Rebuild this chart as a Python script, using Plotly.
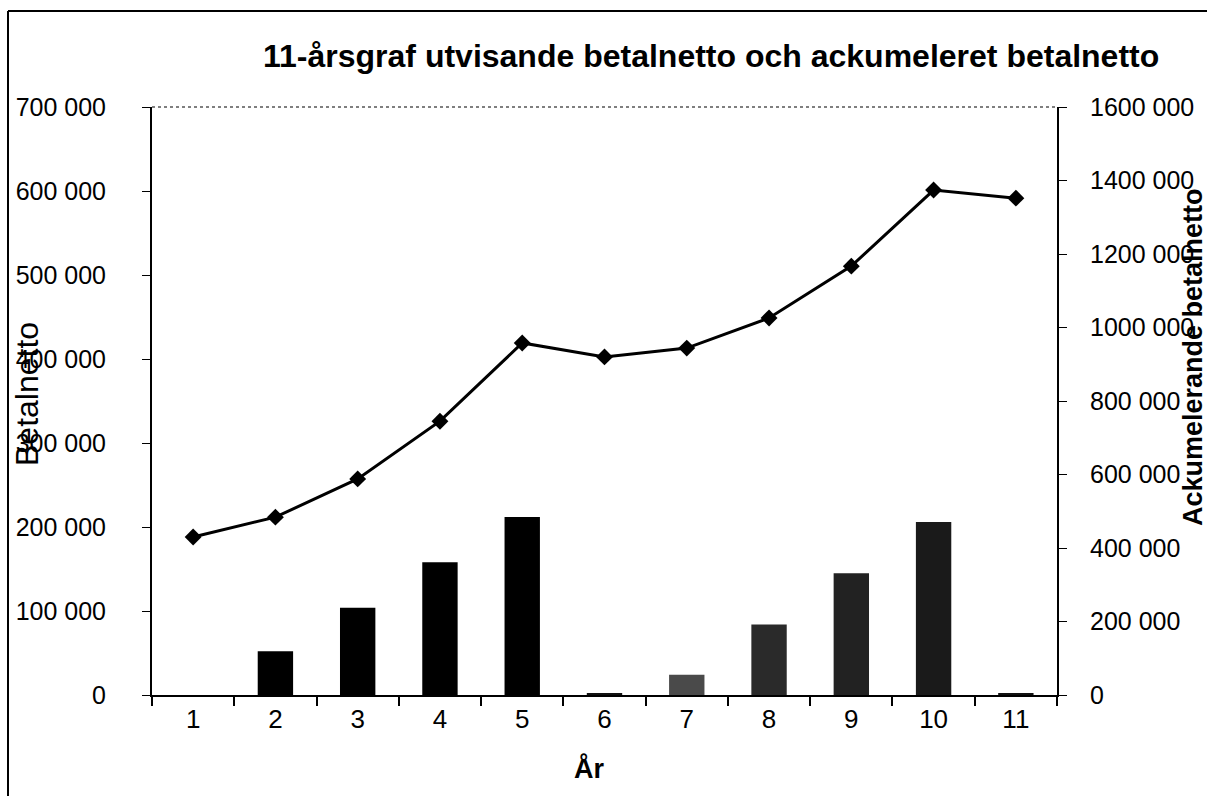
import plotly.graph_objects as go

years = ["1", "2", "3", "4", "5", "6", "7", "8", "9", "10", "11"]
betalnetto = [0, 52000, 104000, 158000, 212000, 2000, 24000, 84000, 145000, 206000, 2000]
ackumulerat = [430000, 484000, 588000, 745000, 958000, 920000, 944000, 1026000, 1167000, 1374000, 1352000]
bar_colors = ["#000000", "#000000", "#000000", "#000000", "#000000", "#111111",
              "#4a4a4a", "#2a2a2a", "#222222", "#1a1a1a", "#111111"]

left_ticks = [0, 100000, 200000, 300000, 400000, 500000, 600000, 700000]
left_text = ["0", "100 000", "200 000", "300 000", "400 000", "500 000", "600 000", "700 000"]
right_ticks = [0, 200000, 400000, 600000, 800000, 1000000, 1200000, 1400000, 1600000]
right_text = ["0", "200 000", "400 000", "600 000", "800 000", "1000 000", "1200 000", "1400 000", "1600 000"]

title = "11-årsgraf utvisande betalnetto och ackumeleret betalnetto"
xtitle = "År"
ytitle_left = "Betalnetto"
ytitle_right = "Ackumelerande betalnetto"

FONT = "Liberation Sans, Arial, sans-serif"
W, H = 1207, 796
L, R, T, B = 152, 150, 107, 101
PW, PH = W - L - R, H - T - B

def px(x):
    return (x - L) / PW

def py(y):
    return (H - B - y) / PH

fig = go.Figure()
fig.add_trace(go.Bar(x=years, y=betalnetto, marker=dict(color=bar_colors, line=dict(width=0)),
                     yaxis="y", showlegend=False))
fig.add_trace(go.Scatter(x=years, y=ackumulerat, mode="lines+markers", yaxis="y2",
                         line=dict(color="black", width=3),
                         marker=dict(symbol="diamond", size=13, color="black"),
                         showlegend=False))

fig.update_layout(
    width=W, height=H,
    margin=dict(l=L, r=R, t=T, b=B, autoexpand=False),
    paper_bgcolor="white", plot_bgcolor="white",
    bargap=0.57,
    font=dict(family=FONT, color="black", size=26),
    xaxis=dict(type="category", range=[-0.5, 10.5], showline=True, linecolor="black", linewidth=2,
               ticks="outside", ticklen=9, tickwidth=1.5, tickcolor="black", tickson="boundaries",
               showgrid=False, zeroline=False, tickfont=dict(size=26, family=FONT)),
    yaxis=dict(range=[0, 700000], tickvals=left_ticks, ticktext=left_text, showline=True,
               linecolor="black", linewidth=2, ticks="outside", ticklen=8, tickcolor="black",
               showgrid=False, zeroline=False, ticklabelstandoff=31,
               tickfont=dict(size=25, family=FONT)),
    yaxis2=dict(range=[0, 1600000], tickvals=right_ticks, ticktext=right_text, overlaying="y",
                side="right", showline=True, linecolor="black", linewidth=2, ticks="outside",
                ticklen=8, tickcolor="black", showgrid=False, zeroline=False,
                ticklabelstandoff=18, tickfont=dict(size=25, family=FONT)),
    shapes=[
        dict(type="line", xref="paper", yref="paper", x0=0, x1=1, y0=1, y1=1,
             line=dict(color="#555555", width=1.5, dash="dot")),
        dict(type="line", xref="paper", yref="paper", x0=px(8), x1=px(8), y0=py(11), y1=py(800),
             line=dict(color="black", width=2)),
        dict(type="line", xref="paper", yref="paper", x0=px(8), x1=px(1210), y0=py(11), y1=py(11),
             line=dict(color="black", width=2)),
    ],
    annotations=[
        dict(text="<b>" + title + "</b>", xref="paper", yref="paper", x=px(711), y=py(56),
             xanchor="center", yanchor="middle", showarrow=False, font=dict(size=32, family=FONT)),
        dict(text="<b>" + xtitle + "</b>", xref="paper", yref="paper", x=px(589), y=py(768),
             xanchor="center", yanchor="middle", showarrow=False, font=dict(size=27, family=FONT)),
        dict(text=ytitle_left, xref="paper", yref="paper", x=px(27), y=py(394), textangle=-90,
             xanchor="center", yanchor="middle", showarrow=False, font=dict(size=32, family=FONT)),
        dict(text="<b>" + ytitle_right + "</b>", xref="paper", yref="paper", x=px(1193), y=py(357),
             textangle=-90, xanchor="center", yanchor="middle", showarrow=False,
             font=dict(size=27, family=FONT)),
    ],
)

fig.write_html("out.html", config={"displayModeBar": False},
               post_script="document.body.style.margin='0';document.body.style.padding='0';")
